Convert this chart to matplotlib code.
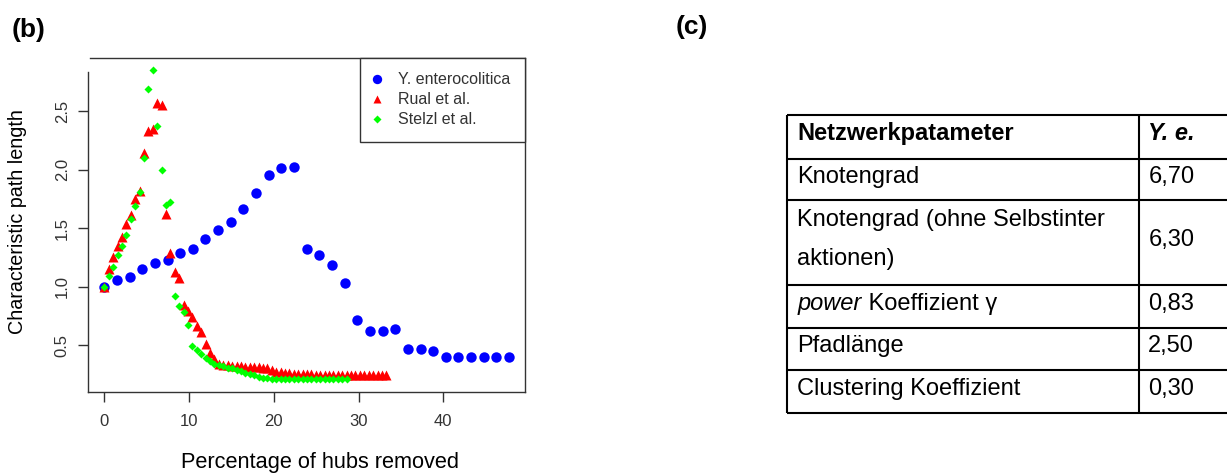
import matplotlib
matplotlib.use('Agg')
import matplotlib.pyplot as plt

plt.rcParams['font.family'] = ['Liberation Sans', 'DejaVu Sans']

# ---------------- data ----------------
yent_x = [0.00, 1.49, 2.99, 4.48, 5.97, 7.46, 8.96, 10.45, 11.94, 13.43, 14.93,
          16.42, 17.91, 19.40, 20.90, 22.39, 23.88, 25.37, 26.87, 28.36, 29.85,
          31.34, 32.84, 34.33, 35.82, 37.31, 38.81, 40.30, 41.79, 43.28, 44.78,
          46.27, 47.76]
yent_y = [1.00, 1.055, 1.08, 1.15, 1.20, 1.23, 1.29, 1.32, 1.41, 1.48, 1.55,
          1.66, 1.80, 1.95, 2.01, 2.02, 1.32, 1.27, 1.18, 1.03, 0.71,
          0.62, 0.62, 0.64, 0.47, 0.47, 0.45, 0.40, 0.40, 0.40, 0.40,
          0.40, 0.40]

rual_x = [0.00, 0.52, 1.04, 1.56, 2.08, 2.60, 3.12, 3.64, 4.16, 4.68, 5.20,
          5.72, 6.24, 6.76, 7.28, 7.80, 8.32, 8.84, 9.36, 9.88, 10.40, 10.92,
          11.44, 11.96, 12.48, 13.00, 13.52, 14.04, 14.56, 15.08, 15.60, 16.12,
          16.64, 17.16, 17.68, 18.20, 18.72, 19.24, 19.76, 20.28, 20.80, 21.32,
          21.84, 22.36, 22.88, 23.40, 23.92, 24.44, 24.96, 25.48, 26.00, 26.52,
          27.04, 27.56, 28.08, 28.60, 29.12, 29.64, 30.16, 30.68, 31.20, 31.72,
          32.24, 32.76, 33.28]
rual_y = [1.00, 1.15, 1.25, 1.35, 1.42, 1.53, 1.61, 1.75, 1.82, 2.14, 2.33,
          2.35, 2.57, 2.55, 1.62, 1.29, 1.12, 1.07, 0.84, 0.79, 0.74, 0.66,
          0.61, 0.51, 0.43, 0.38, 0.34, 0.33, 0.33, 0.32, 0.32, 0.32,
          0.31, 0.31, 0.31, 0.31, 0.30, 0.30, 0.29, 0.27, 0.27, 0.26,
          0.26, 0.25, 0.25, 0.25, 0.25, 0.25, 0.24, 0.24, 0.24, 0.24,
          0.24, 0.24, 0.24, 0.24, 0.24, 0.24, 0.24, 0.24, 0.24, 0.24,
          0.24, 0.24, 0.24]

stelzl_x = [0.00, 0.52, 1.04, 1.56, 2.08, 2.60, 3.12, 3.64, 4.16, 4.68, 5.20,
            5.72, 6.24, 6.76, 7.28, 7.80, 8.32, 8.84, 9.36, 9.88, 10.40, 10.92,
            11.44, 11.96, 12.48, 13.00, 13.52, 14.04, 14.56, 15.08, 15.60, 16.12,
            16.64, 17.16, 17.68, 18.20, 18.72, 19.24, 19.76, 20.28, 20.80, 21.32,
            21.84, 22.36, 22.88, 23.40, 23.92, 24.44, 24.96, 25.48, 26.00, 26.52,
            27.04, 27.56, 28.08, 28.60]
stelzl_y = [1.00, 1.09, 1.17, 1.27, 1.35, 1.44, 1.58, 1.69, 1.81, 2.10, 2.69,
            2.85, 2.37, 2.00, 1.70, 1.72, 0.92, 0.83, 0.78, 0.67, 0.49, 0.46,
            0.42, 0.39, 0.36, 0.34, 0.33, 0.32, 0.30, 0.30, 0.29, 0.28,
            0.26, 0.25, 0.24, 0.23, 0.22, 0.22, 0.21, 0.21, 0.21, 0.21,
            0.21, 0.21, 0.21, 0.21, 0.21, 0.21, 0.21, 0.21, 0.21, 0.21,
            0.21, 0.21, 0.21, 0.21]

series_labels = ['Y. enterocolitica', 'Rual et al.', 'Stelzl et al.']
x_ticks = [0, 10, 20, 30, 40]
y_ticks = [0.5, 1.0, 1.5, 2.0, 2.5]
x_label = 'Percentage of hubs removed'
y_label = 'Characteristic path length'
panel_labels = ['(b)', '(c)']

table_header = ['Netzwerkpatameter', 'Y. e.']
table_italic_prefix = ['', '', 'power', '', '']
table_params = ['Knotengrad', 'Knotengrad (ohne Selbstinter\naktionen)',
                ' Koeffizient γ', 'Pfadlänge', 'Clustering Koeffizient']
table_values = ['6,70', '6,30', '0,83', '2,50', '0,30']

# ---------------- figure ----------------
W, H = 1227, 475
fig = plt.figure(figsize=(W / 100, H / 100), dpi=100)

ov = fig.add_axes([0, 0, 1, 1])
ov.set_xlim(0, W)
ov.set_ylim(H, 0)
ov.axis('off')

ax = fig.add_axes([88 / W, (H - 391.7) / H, 437 / W, 333.7 / H])
ax.plot(yent_x, yent_y, 'o', color='#0000FF', ms=7.5, mec='none',
        label=series_labels[0], zorder=3)
ax.plot(rual_x, rual_y, '^', color='#FF0000', ms=7.0, mec='none',
        label=series_labels[1], zorder=4)
ax.plot(stelzl_x, stelzl_y, 'D', color='#00FF00', ms=4.0, mec='none',
        label=series_labels[2], zorder=5)

ax.set_xlim(-1.923, 49.64)
ax.set_ylim(0.1009, 2.953)
for s in ax.spines.values():
    s.set_color('#333333')
    s.set_linewidth(1.0)
ax.spines['left'].set_bounds(0.1009, 2.833)
ax.spines['top'].set_bounds(-1.69, 49.64)

ax.set_xticks(x_ticks)
ax.set_xticklabels([str(v) for v in x_ticks])
ax.set_yticks(y_ticks)
ax.set_yticklabels([f'{v:.1f}' for v in y_ticks], rotation=90, va='center')
ax.tick_params(length=7.2, width=1, color='#333333', labelcolor='#333333',
               labelsize=12)
ax.tick_params(axis='x', pad=9.0)
ax.tick_params(axis='y', pad=6.0)

ax.set_xlabel(x_label, fontsize=15.7, color='black')
ax.xaxis.set_label_coords(0.532, -0.182)
ax.set_ylabel(y_label, fontsize=14.2, color='black')
ax.yaxis.label.set_verticalalignment('center')
ax.yaxis.set_label_coords(-0.161, 0.51)

leg = ax.legend(loc='upper right', bbox_to_anchor=(1, 1), borderaxespad=0,
                fontsize=11.5, frameon=True, fancybox=False, edgecolor='#333333',
                framealpha=1, borderpad=0.9, labelspacing=0.31,
                handlelength=0.3, handletextpad=1.2, numpoints=1,
                markerscale=0.9)
for t in leg.get_texts():
    t.set_color('#333333')
leg.get_frame().set_linewidth(1.0)

# panel labels
ov.text(12, 36.5, panel_labels[0], fontsize=19, fontweight='bold',
        ha='left', va='baseline')
ov.text(676, 34, panel_labels[1], fontsize=19, fontweight='bold',
        ha='left', va='baseline')

# ---------------- table ----------------
tbl_left, tbl_div, tbl_right = 787.3, 1139.3, 1240
row_lines = [115, 159, 200, 285, 327.7, 370, 413.3]
ov.hlines(row_lines, tbl_left, tbl_right, color='black', lw=1.5)
ov.vlines([tbl_left, tbl_div], row_lines[0], row_lines[-1], color='black', lw=1.5)

fs = 17
pitch = 39.4
pad_l = 10
hc = (row_lines[0] + row_lines[1]) / 2 + 3.3
ov.text(tbl_left + pad_l, hc, table_header[0], fontsize=fs, fontweight='bold',
        va='baseline', ha='left')
ov.text(tbl_div + 9, hc, table_header[1], fontsize=fs, fontweight='bold',
        style='italic', va='baseline', ha='left')

renderer = fig.canvas.get_renderer()
for i, (pref, par, val) in enumerate(zip(table_italic_prefix, table_params, table_values)):
    top, bot = row_lines[i + 1], row_lines[i + 2]
    c = (top + bot) / 2 + 3.3
    lines = par.split('\n')
    n = len(lines)
    for k, ln in enumerate(lines):
        yb = c + (k - (n - 1) / 2) * pitch
        x0 = tbl_left + pad_l
        if k == 0 and pref:
            t1 = ov.text(x0, yb, pref, fontsize=fs, style='italic',
                         va='baseline', ha='left')
            x0 += t1.get_window_extent(renderer).width
        ov.text(x0, yb, ln, fontsize=fs, va='baseline', ha='left')
    ov.text(tbl_div + 9, c, val, fontsize=fs, va='baseline', ha='left')

fig.savefig('out.png', dpi=100)
